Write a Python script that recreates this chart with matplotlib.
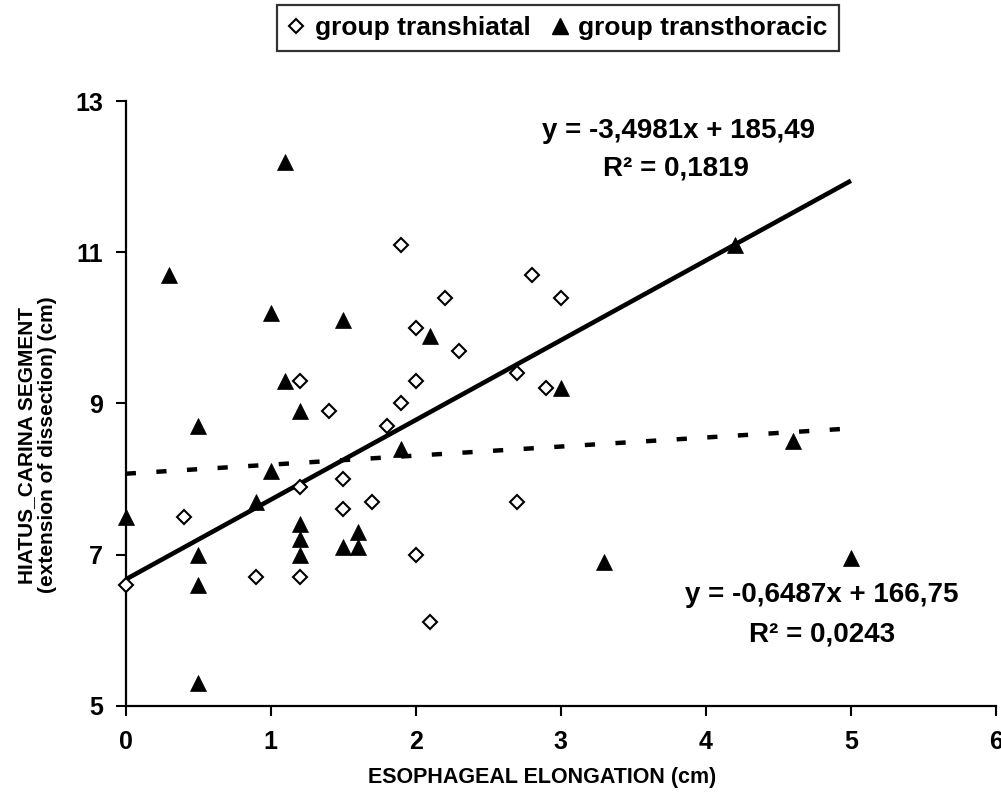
import matplotlib
matplotlib.use("Agg")
import matplotlib.pyplot as plt
from matplotlib.lines import Line2D

# ── Data ─────────────────────────────────────────────────────────────────────
th_x = [0.0, 0.4, 0.9, 1.2, 1.2, 1.2, 1.4, 1.5, 1.5, 1.7, 1.8, 1.9,
        1.9, 2.0, 2.0, 2.0, 2.1, 2.2, 2.3, 2.7, 2.7, 2.8, 2.9, 3.0]
th_y = [6.6, 7.5, 6.7, 9.3, 7.9, 6.7, 8.9, 8.0, 7.6, 7.7, 8.7, 9.0,
        11.1, 10.0, 9.3, 7.0, 6.1, 10.4, 9.7, 9.4, 7.7, 10.7, 9.2, 10.4]

tt_x = [0.0, 0.3, 0.5, 0.5, 0.5, 0.5, 0.9, 1.0, 1.0, 1.1, 1.1, 1.2,
        1.2, 1.2, 1.2, 1.5, 1.5, 1.6, 1.6, 1.9, 2.1, 3.0, 3.3, 4.2,
        4.6, 5.0]
tt_y = [7.5, 10.7, 8.7, 7.0, 6.6, 5.3, 7.7, 10.2, 8.1, 12.2, 9.3, 8.9,
        7.4, 7.2, 7.0, 10.1, 7.1, 7.3, 7.1, 8.4, 9.9, 9.2, 6.9, 11.1,
        8.5, 6.95]

# trend lines as drawn in the source (endpoints at x = 0 and x = 5)
trend_x = [0.0, 5.0]
trend_th = [6.67, 11.95]
trend_tt = [8.07, 8.67]

eq_th = ["y = -3,4981x + 185,49", "R² = 0,1819"]
eq_tt = ["y = -0,6487x + 166,75", "R² = 0,0243"]

x_ticks = [0, 1, 2, 3, 4, 5, 6]
y_ticks = [5, 7, 9, 11, 13]

# ── Style ────────────────────────────────────────────────────────────────────
plt.rcParams.update({
    "font.family": "Liberation Sans",
    "font.weight": "bold",
    "axes.linewidth": 1.6,
})

W, H = 1001, 799
fig = plt.figure(figsize=(W / 100, H / 100), dpi=100)
ax = fig.add_axes([0.1256, 0.117, 0.8694, 0.756])

ax.plot(trend_x, trend_th, color="black", lw=3.3, solid_capstyle="butt", zorder=2)
ax.plot(trend_x, trend_tt, color="black", lw=3.2, dashes=(2.3, 4.6),
        dash_capstyle="butt", zorder=2)

ax.plot(th_x, th_y, ls="none", marker="D", ms=7.2, mfc="white",
        mec="black", mew=1.5, zorder=3, clip_on=False)
ax.plot(tt_x, tt_y, ls="none", marker="^", ms=11.5, mfc="black",
        mec="black", mew=0.5, zorder=3, clip_on=False)

ax.set_xlim(0, 6)
ax.set_ylim(5, 13)
ax.set_xticks(x_ticks)
ax.set_yticks(y_ticks)
ax.tick_params(direction="out", length=7.5, width=1.5, labelsize=18)
ax.tick_params(axis="y", pad=9)
ax.tick_params(axis="x", pad=10)
for lab in ax.get_xticklabels() + ax.get_yticklabels():
    lab.set_fontweight("bold")
ax.spines["top"].set_visible(False)
ax.spines["right"].set_visible(False)

fig.text(542 / W, 1 - 777 / H, "ESOPHAGEAL ELONGATION (cm)",
         ha="center", va="center", fontsize=15.5, fontweight="bold")
fig.text(37 / W, 1 - 445 / H,
         "HIATUS_CARINA SEGMENT\n(extension of dissection) (cm)",
         ha="center", va="center", rotation=90, fontsize=15,
         fontweight="bold", linespacing=1.15)

# regression equations (one text per line)
eq_font = dict(ha="center", va="center", fontsize=20, fontweight="bold")
fig.text(678 / W, 1 - 131 / H, eq_th[0], **eq_font)
fig.text(676 / W, 1 - 168 / H, eq_th[1], **eq_font)
fig.text(822 / W, 1 - 595 / H, eq_tt[0], **eq_font)
fig.text(822 / W, 1 - 634 / H, eq_tt[1], **eq_font)

# legend box at the top
handles = [
    Line2D([], [], ls="none", marker="D", ms=7.0, mfc="white", mec="black", mew=1.5),
    Line2D([], [], ls="none", marker="^", ms=12, mfc="black", mec="black"),
]
leg = fig.legend(handles, ["group transhiatal", "group transthoracic"],
                 loc="upper center", bbox_to_anchor=(558 / W, 1 - 5 / H),
                 ncol=2, frameon=True, fancybox=False, edgecolor="black",
                 fontsize=19, handlelength=0.6, handletextpad=0.4,
                 columnspacing=0.8, borderpad=0.42, borderaxespad=0)
leg.get_frame().set_linewidth(1.6)
for t in leg.get_texts():
    t.set_fontweight("bold")

fig.savefig("out.png", dpi=100, facecolor="white")
